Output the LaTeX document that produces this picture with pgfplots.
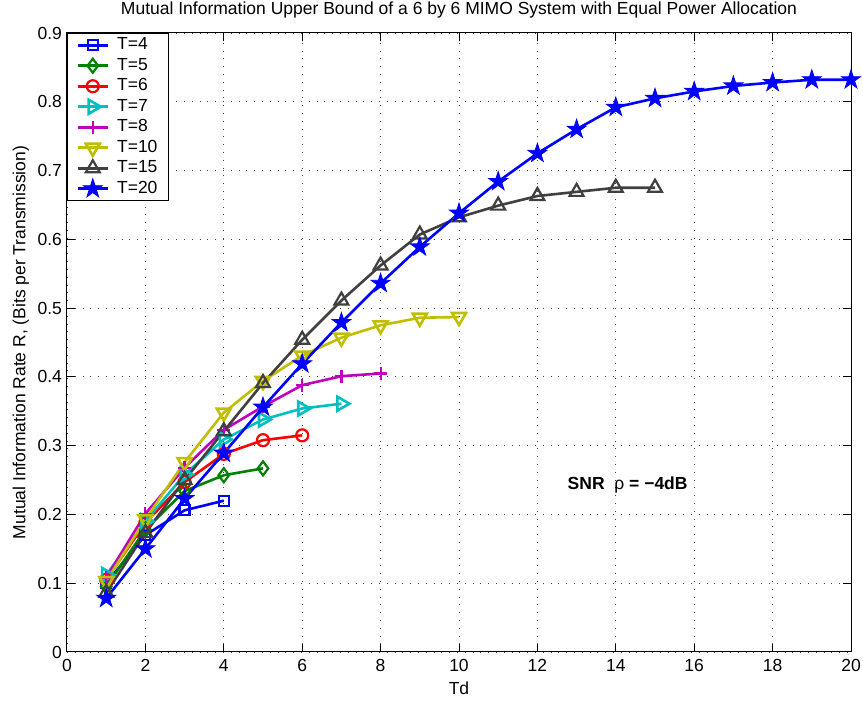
\documentclass[border=0pt]{standalone}
\usepackage{fontspec}
\setmainfont{Liberation Sans}
\usepackage{pgfplots}
\pgfplotsset{compat=1.18}

\definecolor{mblue}{rgb}{0,0,1}
\definecolor{mgreen}{rgb}{0,0.5,0}
\definecolor{mred}{rgb}{1,0,0}
\definecolor{mcyan}{rgb}{0,0.75,0.75}
\definecolor{mmag}{rgb}{0.75,0,0.75}
\definecolor{molive}{rgb}{0.75,0.75,0}
\definecolor{mgray}{rgb}{0.25,0.25,0.25}

% filled five-pointed star
\pgfdeclareplotmark{pentagram}{%
  \pgfpathmoveto{\pgfpointpolar{90}{\pgfplotmarksize}}%
  \pgfpathlineto{\pgfpointpolar{126}{0.382\pgfplotmarksize}}%
  \pgfpathlineto{\pgfpointpolar{162}{\pgfplotmarksize}}%
  \pgfpathlineto{\pgfpointpolar{198}{0.382\pgfplotmarksize}}%
  \pgfpathlineto{\pgfpointpolar{234}{\pgfplotmarksize}}%
  \pgfpathlineto{\pgfpointpolar{270}{0.382\pgfplotmarksize}}%
  \pgfpathlineto{\pgfpointpolar{306}{\pgfplotmarksize}}%
  \pgfpathlineto{\pgfpointpolar{342}{0.382\pgfplotmarksize}}%
  \pgfpathlineto{\pgfpointpolar{18}{\pgfplotmarksize}}%
  \pgfpathlineto{\pgfpointpolar{54}{0.382\pgfplotmarksize}}%
  \pgfpathclose
  \pgfusepathqfillstroke
}

\newcommand\chartfont{\fontsize{17.5}{21}\selectfont}

\begin{document}
\chartfont
\begin{tikzpicture}
\begin{axis}[
  scale only axis,
  width=784pt, height=619pt,
  xmin=0, xmax=20, ymin=0, ymax=0.9,
  xtick={0,2,...,20},
  ytick={0,0.1,...,0.9},
  yticklabels={0,0.1,0.2,0.3,0.4,0.5,0.6,0.7,0.8,0.9},
  tick align=inside,
  major tick length=8pt,
  axis line style={line width=1pt},
  every tick/.style={black, line width=1pt},
  grid=major,
  major grid style={black!75, line width=0.8pt, dash pattern=on 0.8pt off 7pt},
  /pgf/number format/assume math mode=true,
  tick label style={font=\chartfont},
  xticklabel style={yshift=-1pt},
  yticklabel style={xshift=1pt},
  title={Mutual Information Upper Bound of a 6 by 6 MIMO System with Equal Power Allocation},
  title style={at={(axis description cs:0.5,1)}, anchor=base, yshift=12pt, font=\chartfont},
  xlabel={Td},
  xlabel style={at={(axis description cs:0.5,-0.058)}, anchor=center, font=\chartfont},
  ylabel={Mutual Information Rate R, (Bits per Transmission)},
  ylabel style={at={(axis description cs:-0.059,0.5)}, anchor=center, rotate=0, font=\chartfont},
  legend style={at={(0,1)}, anchor=north west, draw=black, line width=1pt,
    font=\chartfont, inner xsep=9pt, inner ysep=1.5pt, row sep=0pt, column sep=6pt,
    nodes={inner sep=2pt, text height=13pt, text depth=3.5pt}},
  legend cell align=left,
  legend image code/.code={%
    \draw[mark repeat=2,mark phase=2,#1] plot coordinates {(0pt,0pt) (15pt,0pt) (30pt,0pt)};},
  every axis plot/.append style={line width=2.6pt, mark options={solid, line width=2.2pt}},
]
\addplot[mblue, mark=square, mark size=5pt] coordinates {
  (1,0.100) (2,0.170) (3,0.206) (4,0.220)};
\addlegendentry{T=4}
\addplot[mgreen, mark=diamond, mark size=7pt] coordinates {
  (1,0.095) (2,0.178) (3,0.234) (4,0.257) (5,0.267)};
\addlegendentry{T=5}
\addplot[mred, mark=o, mark size=6pt] coordinates {
  (1,0.105) (2,0.188) (3,0.247) (4,0.288) (5,0.308) (6,0.315)};
\addlegendentry{T=6}
\addplot[mcyan, mark=triangle, mark size=8pt, mark options={rotate=-90}] coordinates {
  (1,0.112) (2,0.190) (3,0.258) (4,0.309) (5,0.338) (6,0.354) (7,0.361)};
\addlegendentry{T=7}
\addplot[mmag, mark=+, mark size=6.5pt] coordinates {
  (1,0.108) (2,0.201) (3,0.268) (4,0.323) (5,0.357) (6,0.388) (7,0.401) (8,0.405)};
\addlegendentry{T=8}
\addplot[molive, mark=triangle, mark size=8pt, mark options={rotate=180}] coordinates {
  (1,0.103) (2,0.193) (3,0.276) (4,0.348) (5,0.394) (6,0.431) (7,0.457) (8,0.475) (9,0.486) (10,0.487)};
\addlegendentry{T=10}
\addplot[mgray, mark=triangle, mark size=8pt] coordinates {
  (1,0.086) (2,0.173) (3,0.250) (4,0.321) (5,0.391) (6,0.454) (7,0.511) (8,0.562)
  (9,0.607) (10,0.632) (11,0.649) (12,0.663) (13,0.669) (14,0.675) (15,0.675)};
\addlegendentry{T=15}
\addplot[mblue, mark=pentagram, mark size=10pt, mark options={fill=mblue, line width=0.8pt}] coordinates {
  (1,0.078) (2,0.150) (3,0.223) (4,0.289) (5,0.356) (6,0.419) (7,0.479) (8,0.536)
  (9,0.589) (10,0.638) (11,0.684) (12,0.725) (13,0.760) (14,0.792) (15,0.805)
  (16,0.815) (17,0.823) (18,0.828) (19,0.832) (20,0.832)};
\addlegendentry{T=20}
\node[anchor=west, font=\bfseries\chartfont] at (axis cs:12.62,0.243)
  {SNR\ \ {\mdseries ρ} = −4dB};
\end{axis}
\pgfresetboundingbox
\path ([xshift=-67pt,yshift=-49pt]current axis.south west) rectangle ([xshift=12pt,yshift=33pt]current axis.north east);
\end{tikzpicture}
\end{document}
